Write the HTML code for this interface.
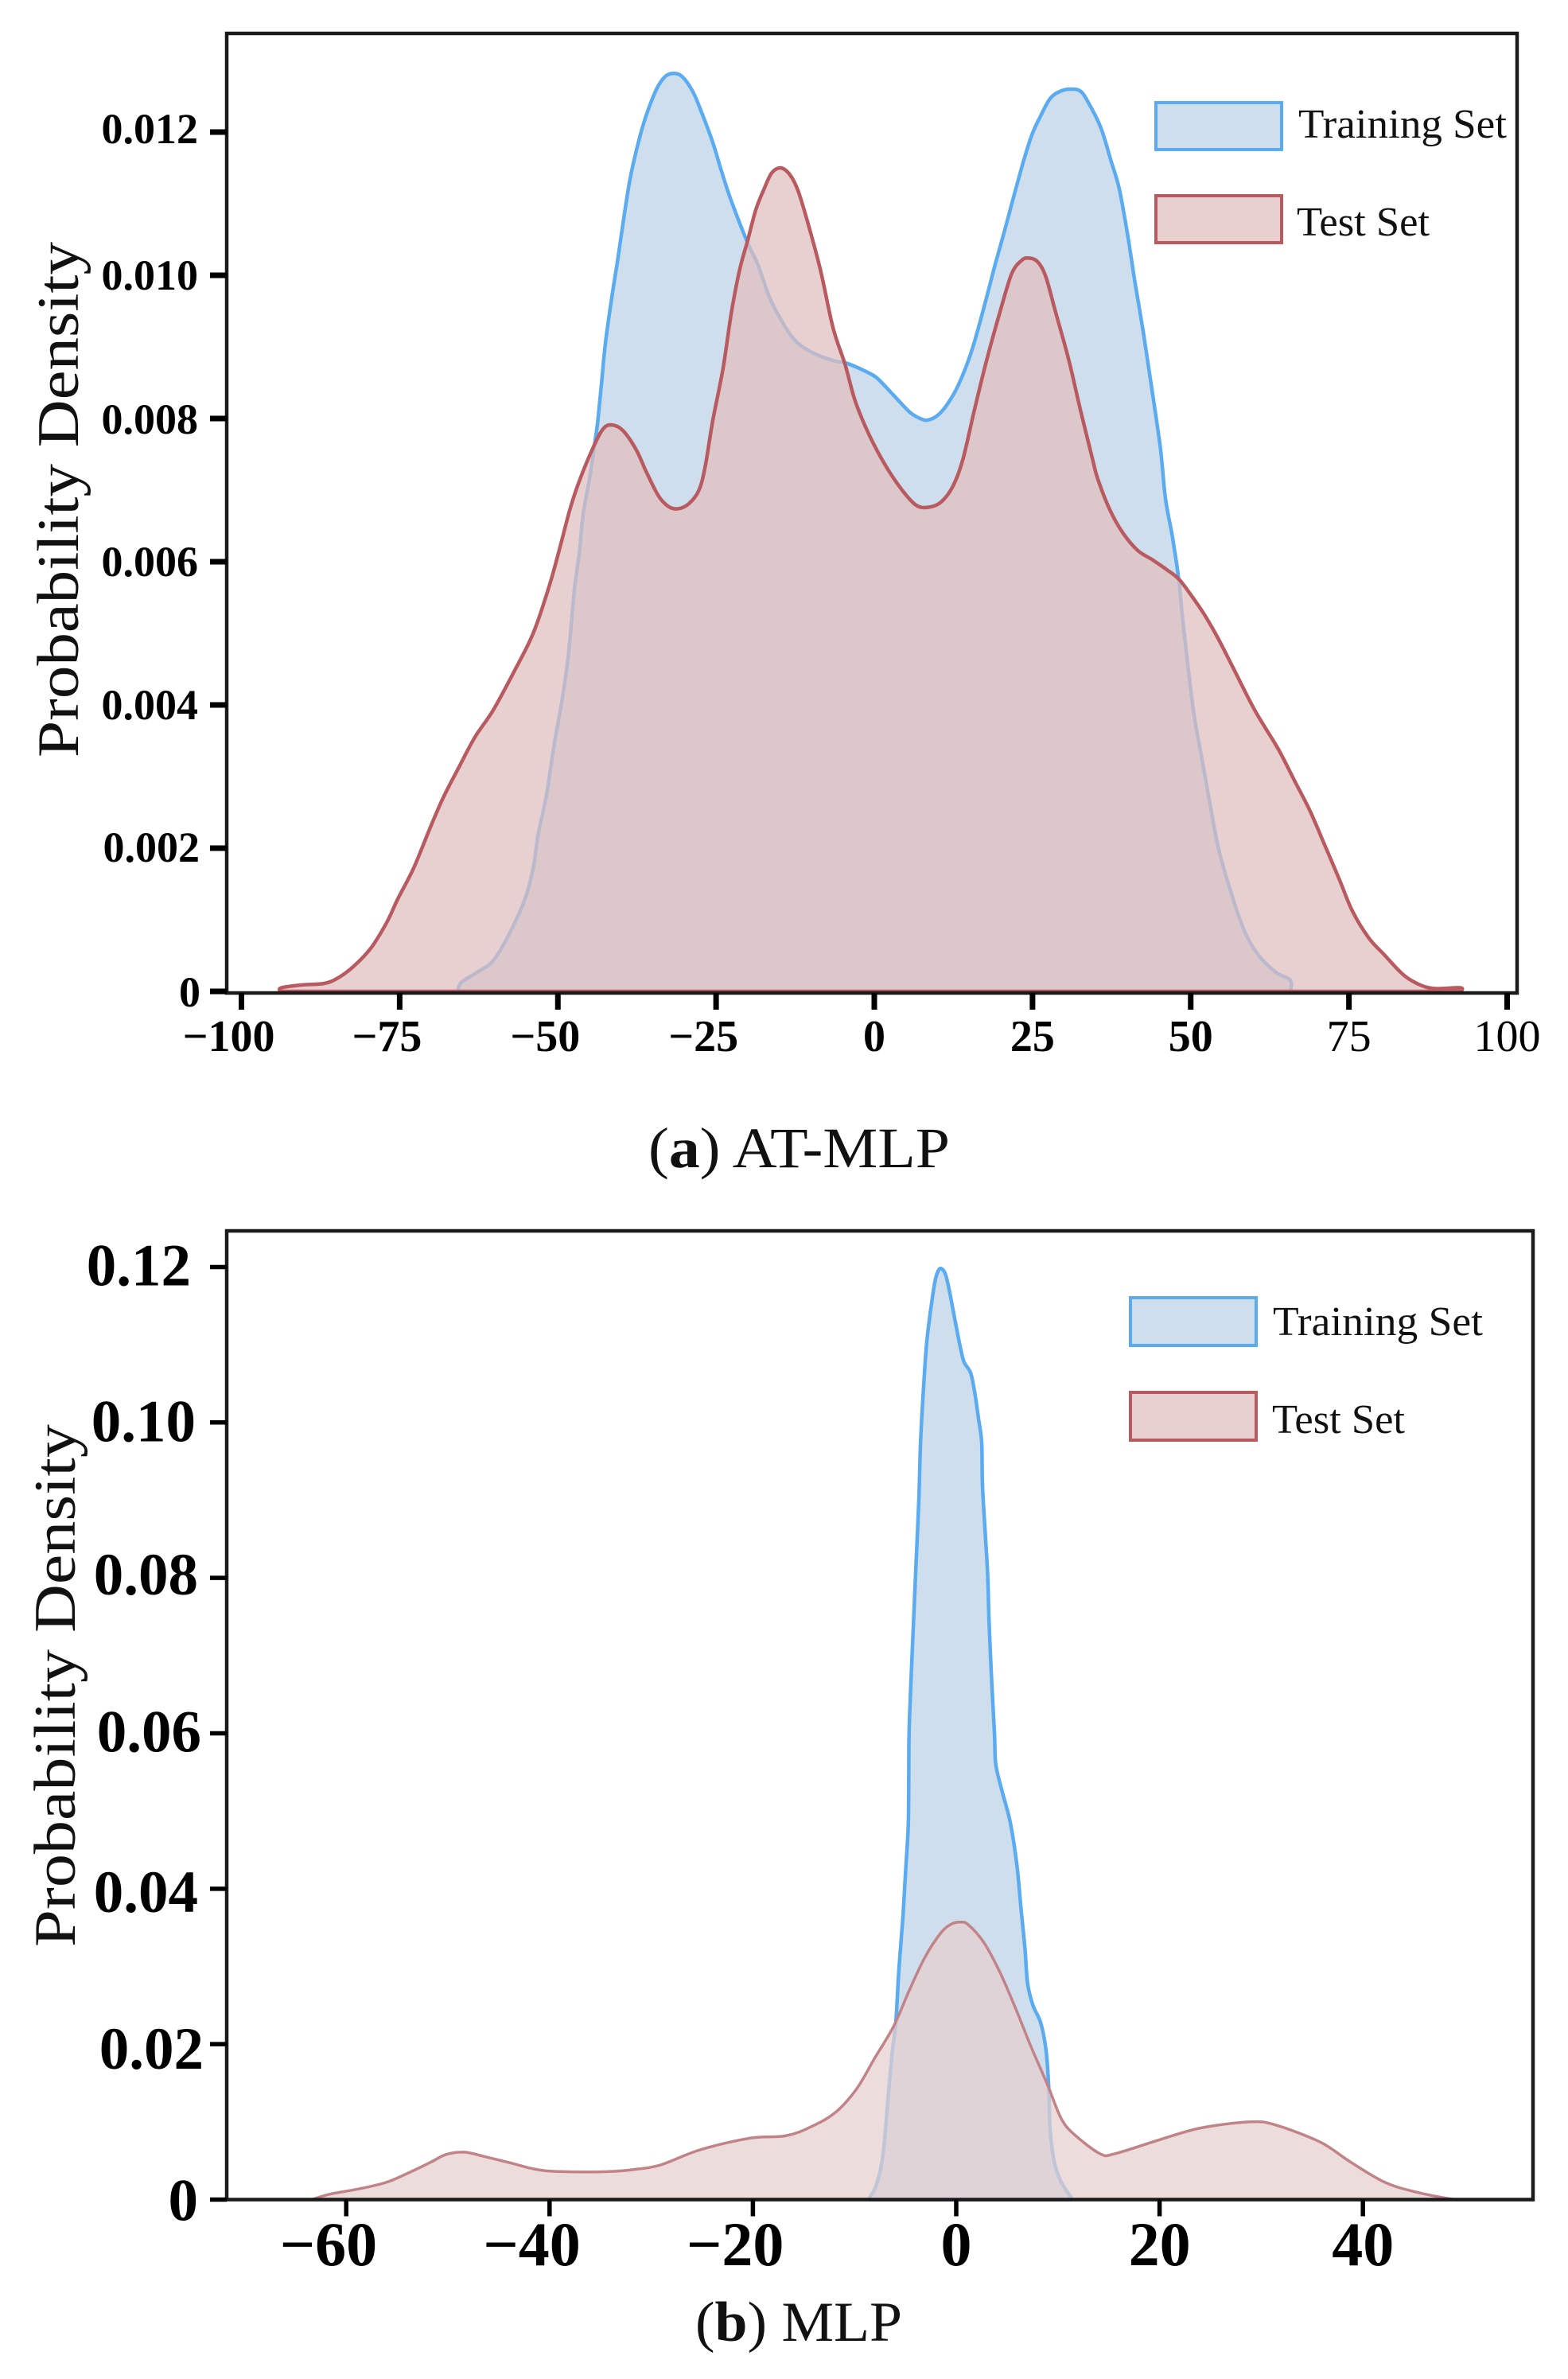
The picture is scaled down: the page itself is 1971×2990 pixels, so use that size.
<!DOCTYPE html>
<html lang="en">
<head>
<meta charset="utf-8">
<title>Probability density of AT-MLP and MLP errors</title>
<style>
  html, body { margin: 0; padding: 0; background: #fff; }
  svg { display: block; font-family: "Liberation Serif", serif; }
</style>
</head>
<body>
<svg id="figure" xmlns="http://www.w3.org/2000/svg" width="1971" height="2990" viewBox="0 0 1971 2990">
  <rect width="1971" height="2990" fill="#fff"/>

  <g id="panel-a"></g>
  <g>
    <g>
      <rect x="1453" y="129" width="158" height="59" fill="#cfdeec" stroke="#5aabf0" stroke-width="4"/>
      <text x="1632" y="173" font-size="52" textLength="262" lengthAdjust="spacingAndGlyphs" fill="#111">Training Set</text>
    </g>
    <g>
      <rect x="1453" y="246" width="158" height="59" fill="#e9d0d0" stroke="#b85a60" stroke-width="4"/>
      <text x="1630" y="296" font-size="52" textLength="167" lengthAdjust="spacingAndGlyphs" fill="#111">Test Set</text>
    </g>
  </g>
  <text transform="translate(98 952) rotate(-90)" font-size="74" textLength="648" lengthAdjust="spacingAndGlyphs" fill="#111">Probability Density</text>
  <text x="815" y="1467" font-size="72" textLength="379" lengthAdjust="spacingAndGlyphs" fill="#111">(<tspan font-weight="bold">a</tspan>) AT-MLP</text>

  <g id="panel-b"></g>
  <g>
    <g>
      <rect x="1421" y="1631" width="158" height="60" fill="#cfdeec" stroke="#5aabf0" stroke-width="4"/>
      <text x="1600" y="1678" font-size="52" textLength="264" lengthAdjust="spacingAndGlyphs" fill="#111">Training Set</text>
    </g>
    <g>
      <rect x="1421" y="1750" width="158" height="60" fill="#e9d0d0" stroke="#b85a60" stroke-width="4"/>
      <text x="1599" y="1801" font-size="52" textLength="167" lengthAdjust="spacingAndGlyphs" fill="#111">Test Set</text>
    </g>
  </g>
  <text transform="translate(94 2447) rotate(-90)" font-size="74" textLength="657" lengthAdjust="spacingAndGlyphs" fill="#111">Probability Density</text>
  <text x="874" y="2942" font-size="71" textLength="260" lengthAdjust="spacingAndGlyphs" fill="#111">(<tspan font-weight="bold">b</tspan>) MLP</text>
</svg>

<script>
// Panel (a) AT-MLP data
var aXTicks = [-100, -75, -50, -25, 0, 25, 50, 75, 100];
var aXLightTicks = [75, 100];
var aYTicks = [0, 0.002, 0.004, 0.006, 0.008, 0.010, 0.012];
var aYTickLabels = ['0', '0.002', '0.004', '0.006', '0.008', '0.010', '0.012'];
var aTrainX = [-65.9, -65.2, -62.7, -60.2, -57.7, -55.2, -53.9, -53.1, -51.8, -50.6, -49.3, -48.3, -47.4, -46.6, -46.0, -44.9, -44.1, -43.7, -43.1, -42.5, -41.5, -40.5, -39.6, -38.6, -37.3, -36.05, -34.4, -33.0, -31.6, -30.3, -28.7, -27.4, -25.5, -24.2, -22.6, -20.0, -18.4, -16.5, -14.2, -12.3, -9.75, -6.5, -4.3, -1.4, 0.5, 3.1, 5.6, 7.25, 8.5, 10.1, 11.7, 13.3, 15.3, 17.2, 19.1, 20.7, 22.0, 23.6, 24.9, 26.2, 27.8, 29.4, 31.0, 32.6, 33.9, 35.8, 37.4, 38.7, 40.0, 41.2, 42.5, 43.8, 45.2, 46.0, 47.1, 48.1, 48.7, 49.8, 50.6, 51.7, 52.9, 54.4, 56.3, 58.4, 60.5, 63.4, 65.7, 65.8];
var aTrainDensity = [0, 0.00013, 0.00027, 0.00043, 0.0008, 0.00129, 0.00172, 0.0022, 0.00274, 0.00344, 0.00409, 0.00473, 0.0056, 0.00613, 0.00667, 0.00721, 0.0077, 0.00796, 0.00849, 0.00904, 0.00968, 0.01024, 0.01079, 0.01134, 0.01185, 0.01223, 0.0126, 0.01278, 0.01282, 0.01277, 0.01257, 0.0123, 0.01185, 0.01147, 0.01104, 0.01045, 0.01015, 0.00968, 0.0093, 0.00907, 0.00892, 0.00881, 0.00877, 0.00866, 0.00856, 0.00832, 0.00809, 0.008, 0.00798, 0.00805, 0.00822, 0.00847, 0.00892, 0.00951, 0.01015, 0.01066, 0.01109, 0.0116, 0.01196, 0.01221, 0.01247, 0.01257, 0.0126, 0.01257, 0.0124, 0.01206, 0.0116, 0.01121, 0.01058, 0.0099, 0.00921, 0.00845, 0.00759, 0.00689, 0.00635, 0.00576, 0.00522, 0.00436, 0.00382, 0.00328, 0.00269, 0.00199, 0.0014, 0.00086, 0.00053, 0.00027, 0.00016, 0];
var aTestX = [-93.9, -93.7, -90.4, -87.0, -84.9, -82.4, -79.5, -77.0, -75.3, -72.8, -70.3, -68.2, -65.7, -63.1, -60.2, -56.9, -53.9, -51.4, -49.7, -48.1, -46.6, -44.3, -42.8, -41.4, -39.7, -37.6, -36.05, -34.1, -32.5, -31.0, -29.3, -27.7, -26.7, -25.5, -23.9, -22.6, -21.3, -20.0, -18.7, -17.4, -16.2, -14.8, -13.3, -12.0, -10.4, -8.5, -6.5, -4.6, -3.0, -0.8, 1.8, 4.4, 6.6, 8.5, 10.5, 12.4, 14.0, 15.9, 17.8, 19.8, 21.7, 23.3, 24.4, 25.8, 27.1, 28.7, 30.7, 32.6, 34.5, 35.3, 37.2, 39.3, 41.6, 43.9, 46.2, 48.1, 50.0, 52.1, 54.2, 56.7, 60.1, 63.8, 66.3, 68.8, 70.9, 73.5, 75.5, 78.1, 80.6, 83.5, 86.0, 88.5, 92.6, 92.7];
var aTestDensity = [0, 0.00005, 0.00009, 0.00011, 0.00018, 0.00034, 0.00061, 0.00097, 0.00129, 0.00172, 0.00226, 0.00269, 0.00312, 0.00355, 0.00393, 0.00447, 0.005, 0.00565, 0.00619, 0.00673, 0.00713, 0.00762, 0.00786, 0.00791, 0.00783, 0.00756, 0.00726, 0.00692, 0.00677, 0.00674, 0.00681, 0.007, 0.00734, 0.00798, 0.0087, 0.00947, 0.01007, 0.01049, 0.01092, 0.01121, 0.01143, 0.0115, 0.0114, 0.01117, 0.0107, 0.01007, 0.00926, 0.00875, 0.00824, 0.00777, 0.00734, 0.007, 0.00679, 0.00676, 0.00683, 0.00705, 0.00743, 0.00815, 0.00883, 0.00947, 0.01002, 0.01021, 0.01024, 0.01019, 0.00998, 0.00947, 0.00883, 0.00811, 0.00743, 0.00716, 0.00673, 0.0064, 0.00616, 0.00603, 0.00589, 0.00576, 0.00554, 0.00527, 0.00495, 0.00452, 0.00393, 0.00339, 0.00296, 0.00253, 0.0021, 0.00156, 0.00113, 0.00075, 0.00051, 0.00024, 0.0001, 0.00004, 0.00005, 0];

// Panel (b) MLP data
var bXTicks = [-60, -40, -20, 0, 20, 40];
var bXLightTicks = [];
var bYTicks = [0, 0.02, 0.04, 0.06, 0.08, 0.10, 0.12];
var bYTickLabels = ['0', '0.02', '0.04', '0.06', '0.08', '0.10', '0.12'];
var bTrainX = [-8.6, -8.5, -7.85, -7.2, -6.67, -6.28, -5.95, -5.63, -5.24, -4.98, -4.72, -4.67, -4.64, -4.46, -4.2, -3.94, -3.68, -3.5, -3.16, -2.9, -2.5, -2.1, -1.77, -1.46, -1.07, -0.68, -0.16, 0.37, 0.76, 1.41, 1.8, 2.19, 2.5, 2.58, 2.84, 3.1, 3.23, 3.5, 3.76, 3.89, 4.54, 5.32, 5.97, 6.36, 6.75, 7.02, 7.54, 8.32, 8.84, 9.1, 9.23, 9.62, 10.3, 11.3, 11.4];
var bTrainDensity = [0, 0.0003, 0.0019, 0.0058, 0.01365, 0.0191, 0.02266, 0.0297, 0.0364, 0.0423, 0.0481, 0.054, 0.0599, 0.0664, 0.0743, 0.0821, 0.09, 0.0978, 0.1056, 0.1103, 0.1146, 0.1181, 0.1195, 0.1198, 0.1191, 0.117, 0.1134, 0.1099, 0.1078, 0.1064, 0.104, 0.1005, 0.0974, 0.0919, 0.086, 0.0802, 0.0743, 0.0664, 0.0599, 0.056, 0.0524, 0.0485, 0.043, 0.0376, 0.0324, 0.0278, 0.025, 0.0227, 0.0191, 0.0144, 0.009, 0.005, 0.0023, 0.0003, 0];
var bTestX = [-63.4, -61.6, -58.8, -56.1, -54.1, -51.7, -50.2, -48.4, -46.6, -43.8, -41.4, -39, -34.2, -31.5, -29.1, -25.2, -20.3, -16.8, -14.4, -11.9, -9.8, -7.98, -6.16, -4.59, -3.03, -1.46, -0.41, 0.37, 1.15, 2.71, 4.28, 5.84, 7.41, 8.97, 10.3, 11.6, 14.15, 15.6, 20, 24, 28.9, 31.4, 35.8, 38.7, 42.2, 45.6, 49];
var bTestDensity = [0, 0.0007, 0.00136, 0.0022, 0.0033, 0.0048, 0.0058, 0.0061, 0.0056, 0.0047, 0.0039, 0.0036, 0.0036, 0.0039, 0.00445, 0.0064, 0.0079, 0.0082, 0.0093, 0.0112, 0.01425, 0.0183, 0.0223, 0.027, 0.0313, 0.0344, 0.0355, 0.0357, 0.0354, 0.0331, 0.0293, 0.0246, 0.0195, 0.0148, 0.0105, 0.0084, 0.0059, 0.0059, 0.0077, 0.0092, 0.01, 0.0096, 0.0074, 0.0049, 0.0022, 0.00085, 0];

var SVG_NS = 'http://www.w3.org/2000/svg';

function make(tag, attrs, parent) {
  var el = document.createElementNS(SVG_NS, tag);
  for (var k in attrs) { el.setAttribute(k, attrs[k]); }
  parent.appendChild(el);
  return el;
}

function smoothPath(xs, ys, sx, sy) {
  var px = xs.map(sx), py = ys.map(sy), n = px.length;
  var d = 'M' + px[0].toFixed(1) + ' ' + py[0].toFixed(1);
  for (var i = 0; i < n - 1; i++) {
    var i0 = Math.max(i - 1, 0), i3 = Math.min(i + 2, n - 1);
    var c1x = px[i] + (px[i + 1] - px[i0]) / 6, c1y = py[i] + (py[i + 1] - py[i0]) / 6;
    var c2x = px[i + 1] - (px[i3] - px[i]) / 6, c2y = py[i + 1] - (py[i3] - py[i]) / 6;
    d += 'C' + c1x.toFixed(1) + ' ' + c1y.toFixed(1) + ' ' + c2x.toFixed(1) + ' ' + c2y.toFixed(1) + ' ' + px[i + 1].toFixed(1) + ' ' + py[i + 1].toFixed(1);
  }
  return d + 'Z';
}

function drawPanel(o) {
  var root = document.getElementById(o.id);
  var sx = function (v) { return o.x0 + o.xk * v; };
  var sy = function (v) { return o.y0 - o.yk * v; };

  var train = make('path', {
    d: smoothPath(o.trainX, o.trainY, sx, sy),
    fill: '#cfdeec', stroke: '#5aabf0', 'stroke-width': 4.5, 'stroke-linejoin': 'round'
  }, root);
  
  

  var test = make('path', {
    d: smoothPath(o.testX, o.testY, sx, sy),
    fill: o.testFill, 'fill-opacity': 0.73, stroke: o.testStroke, 'stroke-width': o.testWidth, 'stroke-linejoin': 'round'
  }, root);
  
  

  var frame = make('rect', {
    x: o.left, y: o.top, width: o.right - o.left, height: o.y0 + o.frameDrop - o.top,
    fill: 'none', stroke: '#1a1a1a', 'stroke-width': 4.5
  }, root);
  
  

  o.xTicks.forEach(function (t) {
    var x = sx(t);
    var tick = make('line', {
      x1: x, x2: x, y1: o.y0 + o.frameDrop, y2: o.y0 + o.frameDrop + 21,
      stroke: '#000', 'stroke-width': o.tickW
    }, root);
    
    

    var digits = String(Math.abs(t));
    var halfDigits = digits.length * 0.25 * o.xFont;
    var lab = make('text', {
      x: t < 0 ? x + halfDigits : x,
      y: o.xBase,
      'text-anchor': t < 0 ? 'end' : 'middle',
      'font-size': o.xFont,
      'font-weight': o.xLight.indexOf(t) >= 0 ? 'normal' : 'bold',
      fill: '#000'
    }, root);
    lab.textContent = (t < 0 ? '\u2212' : '') + digits;
    
    
  });

  o.yTicks.forEach(function (t, i) {
    var y = sy(t);
    var tick = make('line', {
      x1: o.left - 21, x2: o.left, y1: y, y2: y,
      stroke: '#000', 'stroke-width': o.tickW
    }, root);
    
    

    var lab = make('text', {
      x: 249 + o.labelNudgeX[i], y: y + o.labelNudgeY[i],
      'text-anchor': 'end', 'font-size': o.yFont, 'font-weight': 'bold', fill: '#000'
    }, root);
    lab.textContent = o.yLabels[i];
    
    
  });
}

drawPanel({
  id: 'panel-a', x0: 1099, xk: 7.955, y0: 1246, yk: 90000,
  left: 285, right: 1907, top: 42, frameDrop: 2,
  tickW: 7, xFont: 56, yFont: 54, xBase: 1321,
  labelNudgeX: [3, 2, 0, 0, 0, 0, 0], labelNudgeY: [19, 17, 18, 18, 19, 18, 14],
  xTicks: aXTicks, xLight: aXLightTicks, yTicks: aYTicks, yLabels: aYTickLabels,
  trainX: aTrainX, trainY: aTrainDensity, testX: aTestX, testY: aTestDensity,
  testFill: '#e1bebe', testStroke: '#b85a60', testWidth: 4.5
});

drawPanel({
  id: 'panel-b', x0: 1202, xk: 12.78, y0: 2764.5, yk: 9767,
  left: 285, right: 1927, top: 1547, frameDrop: 0,
  tickW: 5.5, xFont: 78, yFont: 75, xBase: 2847,
  labelNudgeX: [0, 7, 0, 4, 0, -3, -9], labelNudgeY: [26, 31, 29, 23, 21, 23.5, 23],
  xTicks: bXTicks, xLight: bXLightTicks, yTicks: bYTicks, yLabels: bYTickLabels,
  trainX: bTrainX, trainY: bTrainDensity, testX: bTestX, testY: bTestDensity,
  testFill: '#e6cfcf', testStroke: '#c28388', testWidth: 3.5
});
</script>
</body>
</html>
